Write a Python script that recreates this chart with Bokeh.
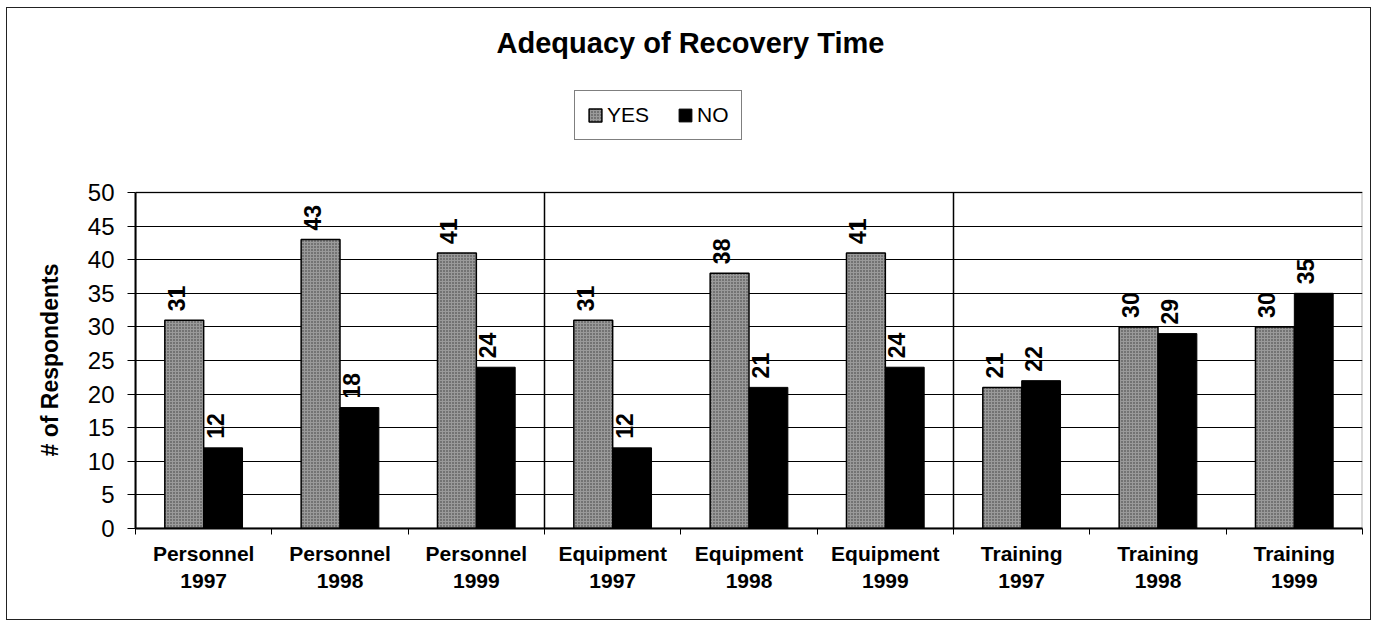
import numpy as np
from bokeh.plotting import figure
from bokeh.models import (FixedTicker, LinearAxis, Label, Legend, LegendItem,
                          Range1d, BoxAnnotation, Title)
from bokeh.core.properties import value
from bokeh.embed import file_html
from bokeh.resources import INLINE

# ---------------- data ----------------
title_text = "Adequacy of Recovery Time"
groups = ["Personnel", "Personnel", "Personnel",
          "Equipment", "Equipment", "Equipment",
          "Training", "Training", "Training"]
years = ["1997", "1998", "1999", "1997", "1998", "1999", "1997", "1998", "1999"]
yes_vals = [31, 43, 41, 31, 38, 41, 21, 30, 30]
no_vals = [12, 18, 24, 12, 21, 24, 22, 29, 35]
series_names = ["YES", "NO"]
y_ticks = [0, 5, 10, 15, 20, 25, 30, 35, 40, 45, 50]
y_label = "# of Respondents"

FONT = "Liberation Sans"
n = len(groups)
centers = [2 * i + 1 for i in range(n)]
bounds = [2 * i for i in range(n + 1)]
group_breaks = [2 * i for i in range(1, n) if groups[i] != groups[i - 1]]
bw = 0.57

# layout (pixels)
W, H = 1365, 613
B_LEFT, B_RIGHT, B_TOP, B_BOTTOM = 128, 10, 0, 93
frame_h = H - B_TOP - B_BOTTOM
axis_px = 336                      # pixel height of the 0..50 value area
y_top = y_ticks[-1] * frame_h / axis_px

p = figure(width=W, height=H, title=None,
           x_range=Range1d(0, 2 * n), y_range=Range1d(y_ticks[0], y_top),
           output_backend="svg", toolbar_location=None,
           x_axis_location=None,
           min_border_left=B_LEFT, min_border_right=B_RIGHT,
           min_border_top=B_TOP, min_border_bottom=B_BOTTOM)
p.styles = {"border": "1px solid #222", "margin-left": "6px", "margin-top": "7px"}
p.background_fill_color = "white"
p.border_fill_color = "white"
p.outline_line_color = None

# y axis
ya = p.yaxis[0]
ya.ticker = FixedTicker(ticks=y_ticks)
ya.bounds = (y_ticks[0], y_ticks[-1])
ya.major_label_text_font = FONT
ya.major_label_text_font_size = "24px"
ya.major_label_text_color = "black"
ya.major_tick_out = 8
ya.major_tick_in = 0
ya.major_tick_line_color = "black"
ya.minor_tick_line_color = None
ya.axis_line_color = "black"
ya.axis_line_width = 2
ya.major_label_standoff = 13

# y axis title, centred on the 0..50 value area
p.add_layout(Title(text=y_label, align="left", offset=72, standoff=43,
                   text_font=FONT, text_font_style="bold",
                   text_font_size="23px", text_color="black"), "left")

# grids
p.ygrid.ticker = FixedTicker(ticks=y_ticks)
p.ygrid.grid_line_color = "black"
p.ygrid.grid_line_width = 1
p.xgrid.visible = False
p.segment(x0=group_breaks, x1=group_breaks,
          y0=[y_ticks[0]] * len(group_breaks), y1=[y_ticks[-1]] * len(group_breaks),
          line_color="black", line_width=1.5)

# plot-area border
p.add_layout(BoxAnnotation(left=0, right=2 * n, bottom=y_ticks[0], top=y_ticks[-1],
                           fill_alpha=0, line_color="black", line_width=2,
                           editable=False))

# x axes (two rows of labels)
ax1 = LinearAxis(ticker=FixedTicker(ticks=centers, minor_ticks=bounds),
                 major_label_overrides={c: g for c, g in zip(centers, groups)})
ax1.axis_line_color = "black"
ax1.axis_line_width = 2
ax1.major_tick_line_color = None
ax1.major_tick_out = 0
ax1.major_tick_in = 0
ax1.minor_tick_line_color = "black"
ax1.minor_tick_out = 6
ax1.minor_tick_in = 0
ax1.major_label_standoff = 7
ax1.major_label_text_font = FONT
ax1.major_label_text_font_style = "bold"
ax1.major_label_text_font_size = "21px"
ax1.major_label_text_color = "black"

ax2 = LinearAxis(ticker=FixedTicker(ticks=centers),
                 major_label_overrides={c: y for c, y in zip(centers, years)})
ax2.axis_line_color = None
ax2.major_tick_line_color = None
ax2.major_tick_out = 0
ax2.major_tick_in = 0
ax2.minor_tick_line_color = None
ax2.major_label_standoff = 6
ax2.major_label_text_font = FONT
ax2.major_label_text_font_style = "bold"
ax2.major_label_text_font_size = "21px"
ax2.major_label_text_color = "black"
p.add_layout(ax1, "below")
p.add_layout(ax2, "below")

# bars
x_yes = [c - bw / 2 for c in centers]
x_no = [c + bw / 2 for c in centers]
r_yes = p.vbar(x=x_yes, top=yes_vals, width=bw, bottom=0,
               fill_color="#9a9a9a", line_color="black", line_width=1.5,
               hatch_pattern="dot", hatch_color="#1a1a1a", hatch_scale=3,
               hatch_alpha=0.75)
r_no = p.vbar(x=x_no, top=no_vals, width=bw, bottom=0,
              fill_color="black", line_color="black", line_width=1)

# value labels (rotated)
for xs, vals in ((x_yes, yes_vals), (x_no, no_vals)):
    p.text(x=xs, y=vals, text=[str(v) for v in vals], angle=np.pi / 2,
           text_align="left", text_baseline="middle",
           x_offset=-8, y_offset=-9,
           text_font=value(FONT), text_font_style="bold",
           text_font_size="23px", text_color="black")

# chart title (inside the frame area above the value region)
p.add_layout(Label(x=555, y=frame_h - 34, x_units="screen", y_units="screen",
                   text=title_text, text_align="center", text_baseline="middle",
                   text_font=FONT, text_font_style="bold",
                   text_font_size="29px", text_color="black"))

# legend
legend = Legend(items=[LegendItem(label=series_names[0], renderers=[r_yes]),
                       LegendItem(label=series_names[1], renderers=[r_no])],
                orientation="horizontal", location=(439, 388),
                label_text_font=FONT, label_text_font_size="21px",
                label_text_color="black",
                glyph_width=16, glyph_height=16, label_standoff=4,
                spacing=28, padding=12, margin=0,
                border_line_color="black", border_line_width=1,
                background_fill_color="white", background_fill_alpha=1)
p.add_layout(legend)

open("out.html", "w").write(file_html(p, INLINE))
